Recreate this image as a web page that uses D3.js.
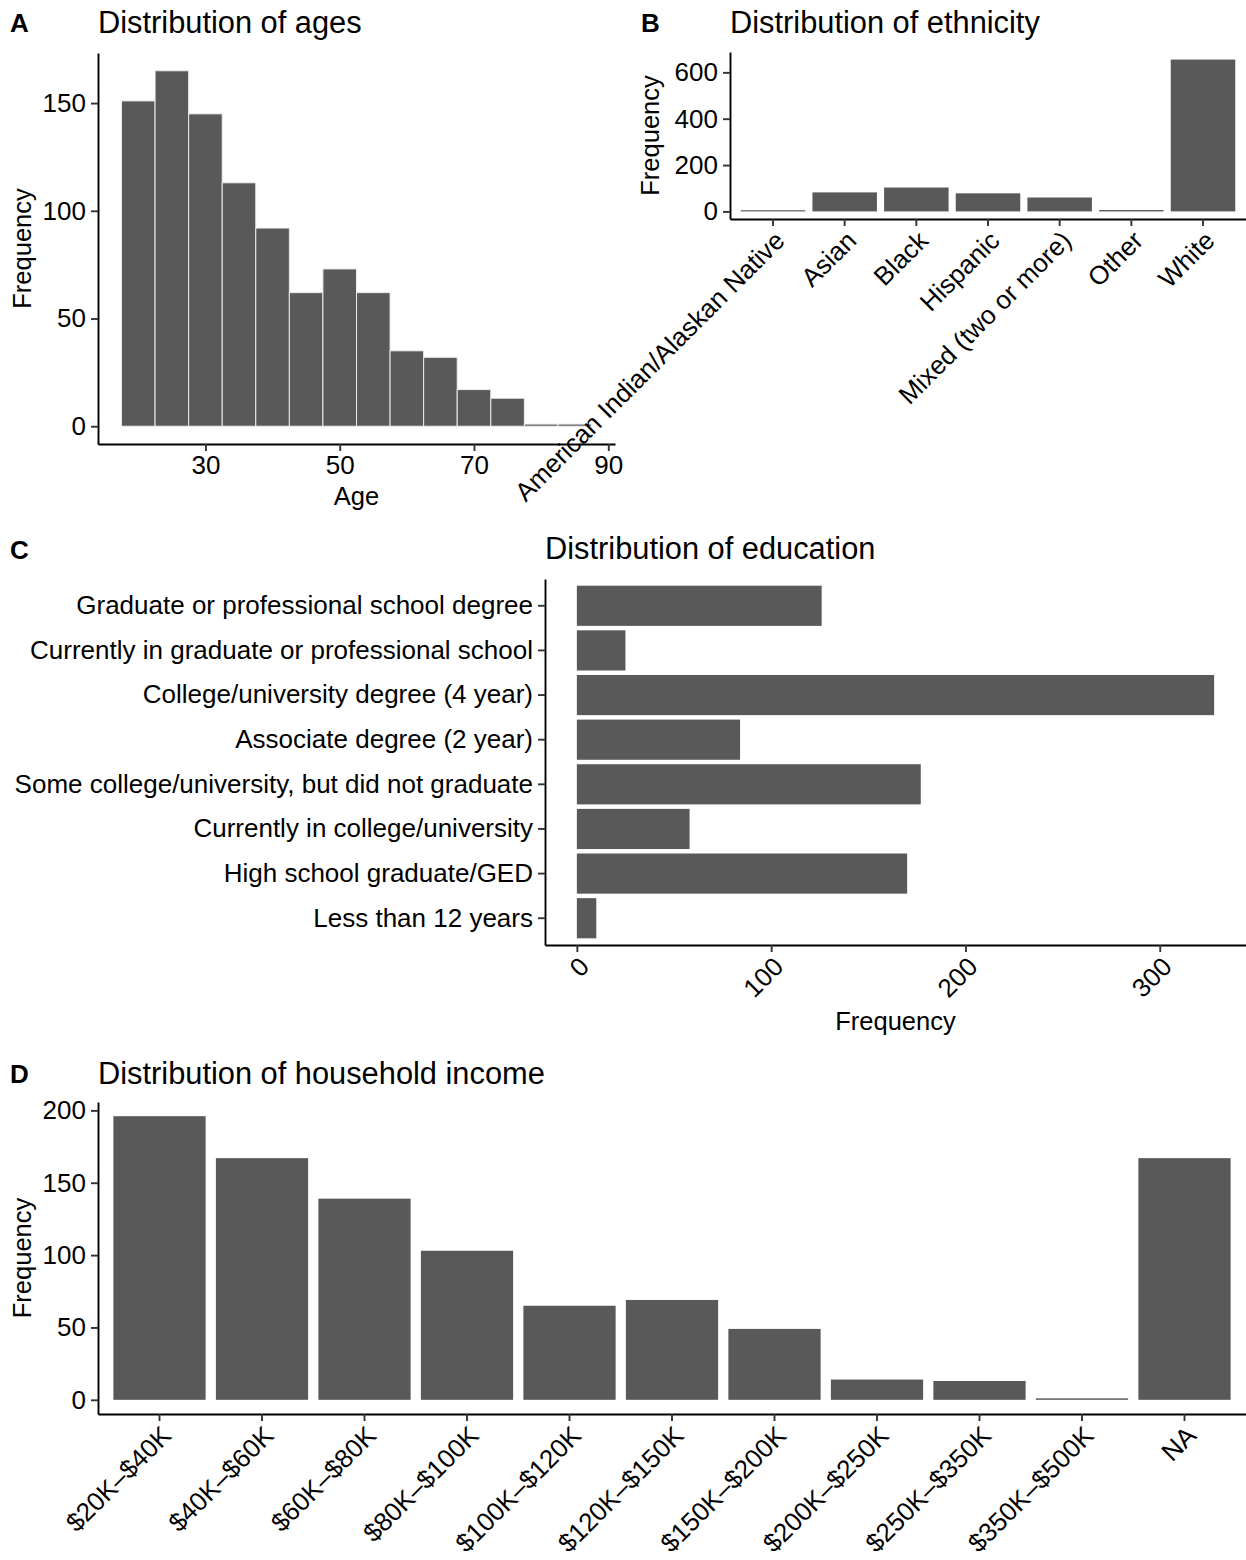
<!DOCTYPE html>
<html>
<head>
<meta charset="utf-8">
<script src="https://cdn.jsdelivr.net/npm/d3@7"></script>
<style>
  html, body { margin: 0; padding: 0; background: #fff; }
  svg { display: block; font-family: "Liberation Sans", Arial, Helvetica, sans-serif; }
</style>
</head>
<body>
<svg id="fig" width="1246" height="1560"></svg>
<script>
// ---- Panel A: age histogram (5-year bins) ----
const ageBinStarts = [17.5, 22.5, 27.5, 32.5, 37.5, 42.5, 47.5, 52.5, 57.5, 62.5, 67.5, 72.5, 77.5, 82.5];
const ageBinWidth = 5;
const ageCounts = [151, 165, 145, 113, 92, 62, 73, 62, 35, 32, 17, 13, 1, 1];
const ageTicks = [30, 50, 70, 90];
const ageFreqTicks = [0, 50, 100, 150];

// ---- Panel B: ethnicity ----
const ethnicities = ["American Indian/Alaskan Native", "Asian", "Black", "Hispanic",
                     "Mixed (two or more)", "Other", "White"];
const ethnicityCounts = [5, 82, 103, 78, 60, 6, 655];
const ethnicityFreqTicks = [0, 200, 400, 600];

// ---- Panel C: education (listed top to bottom) ----
const educationLevels = [
  "Graduate or professional school degree",
  "Currently in graduate or professional school",
  "College/university degree (4 year)",
  "Associate degree (2 year)",
  "Some college/university, but did not graduate",
  "Currently in college/university",
  "High school graduate/GED",
  "Less than 12 years"
];
const educationCounts = [126, 25, 328, 84, 177, 58, 170, 10];
const educationFreqTicks = [0, 100, 200, 300];

// ---- Panel D: household income ----
const incomeBands = ["$20K–$40K", "$40K–$60K", "$60K–$80K", "$80K–$100K", "$100K–$120K",
                     "$120K–$150K", "$150K–$200K", "$200K–$250K", "$250K–$350K", "$350K–$500K", "NA"];
const incomeCounts = [196, 167, 139, 103, 65, 69, 49, 14, 13, 1, 167];
const incomeFreqTicks = [0, 50, 100, 150, 200];

// ---- shared styling ----
const BAR = "#595959";
const FS = 26;            // tick labels
const AXT_FS = 25.5;      // axis titles
const TITLE_FS = 30.8;    // panel titles
const TAG_FS = 26;        // panel letters
const TICK = 7;

const svg = d3.select("#fig");
svg.append("rect").attr("width", 1246).attr("height", 1560).attr("fill", "#fff");

// expand a [lo, hi] domain by 5% on both sides
function expanded(lo, hi) {
  const pad = (hi - lo) * 0.05;
  return [lo - pad, hi + pad];
}

function styleAxis(g) {
  g.attr("font-size", null).attr("font-family", null);
  g.select(".domain").attr("stroke", "#000").attr("stroke-width", 1.9);
  g.selectAll(".tick line").attr("stroke", "#333").attr("stroke-width", 1.9);
  g.selectAll(".tick text").attr("fill", "#000").style("font-size", FS + "px");
}

function rotateLabels(g) {
  g.selectAll(".tick text")
    .attr("x", 0).attr("y", 0).attr("dy", "0.72em")
    .attr("text-anchor", "end")
    .attr("transform", "translate(0," + (TICK + 3) + ") rotate(-45)");
}

function title(x, y, txt) {
  svg.append("text").attr("x", x).attr("y", y)
    .style("font-size", TITLE_FS + "px").attr("fill", "#000").text(txt);
}
function tag(x, y, txt) {
  svg.append("text").attr("x", x).attr("y", y)
    .style("font-size", TAG_FS + "px").style("font-weight", "bold").attr("fill", "#000").text(txt);
}
function yTitle(x, cy, txt) {
  svg.append("text").attr("transform", "translate(" + x + "," + cy + ") rotate(-90)")
    .attr("text-anchor", "middle").style("font-size", AXT_FS + "px").attr("fill", "#000").text(txt);
}
function xTitle(cx, y, txt) {
  svg.append("text").attr("x", cx).attr("y", y)
    .attr("text-anchor", "middle").style("font-size", AXT_FS + "px").attr("fill", "#000").text(txt);
}

// ================= Panel A =================
{
  const L = 98, R = 615, T = 53, B = 444;
  const binMin = d3.min(ageBinStarts), binMax = d3.max(ageBinStarts) + ageBinWidth;
  const x = d3.scaleLinear().domain(expanded(binMin, binMax)).range([L, R]);
  const y = d3.scaleLinear().domain(expanded(0, d3.max(ageCounts))).range([B, T]);

  svg.append("g").selectAll("rect").data(ageCounts).join("rect")
    .attr("x", (d, i) => x(ageBinStarts[i]))
    .attr("width", (d, i) => x(ageBinStarts[i] + ageBinWidth) - x(ageBinStarts[i]))
    .attr("y", d => y(d))
    .attr("height", d => y(0) - y(d))
    .attr("fill", BAR).attr("stroke", "#ececec").attr("stroke-width", 1);

  svg.append("g").attr("transform", "translate(" + L + ",0)")
    .call(d3.axisLeft(y).tickValues(ageFreqTicks).tickSize(TICK).tickSizeOuter(0).tickPadding(5))
    .call(styleAxis);
  svg.append("g").attr("transform", "translate(0," + B + ")")
    .call(d3.axisBottom(x).tickValues(ageTicks).tickSize(TICK).tickSizeOuter(0).tickPadding(5))
    .call(styleAxis);

  tag(10, 32, "A");
  title(L, 33, "Distribution of ages");
  yTitle(31, (T + B) / 2, "Frequency");
  xTitle((L + R) / 2, 505, "Age");
}

// ================= Panel B =================
{
  const L = 730, R = 1246, T = 52, B = 219;
  const x = d3.scaleBand().domain(ethnicities).range([L, R]).paddingInner(0.1).paddingOuter(0.15);
  const y = d3.scaleLinear().domain(expanded(0, d3.max(ethnicityCounts))).range([B, T]);

  svg.append("g").selectAll("rect").data(ethnicityCounts).join("rect")
    .attr("x", (d, i) => x(ethnicities[i]))
    .attr("width", x.bandwidth())
    .attr("y", d => y(d))
    .attr("height", d => y(0) - y(d))
    .attr("fill", BAR);

  svg.append("g").attr("transform", "translate(" + L + ",0)")
    .call(d3.axisLeft(y).tickValues(ethnicityFreqTicks).tickSize(TICK).tickSizeOuter(0).tickPadding(5))
    .call(styleAxis);
  svg.append("g").attr("transform", "translate(0," + B + ")")
    .call(d3.axisBottom(x).tickSize(TICK).tickSizeOuter(0))
    .call(styleAxis).call(rotateLabels);

  tag(641, 32, "B");
  title(L, 33, "Distribution of ethnicity");
  yTitle(659, (T + B) / 2, "Frequency");
}

// ================= Panel C =================
{
  const L = 545, R = 1246, T = 579, B = 945;
  const x = d3.scaleLinear().domain(expanded(0, d3.max(educationCounts))).range([L, R]);
  const y = d3.scaleBand().domain(educationLevels).range([T, B]).paddingInner(0.1).paddingOuter(0.15);

  svg.append("g").selectAll("rect").data(educationCounts).join("rect")
    .attr("x", x(0))
    .attr("width", d => x(d) - x(0))
    .attr("y", (d, i) => y(educationLevels[i]))
    .attr("height", y.bandwidth())
    .attr("fill", BAR);

  svg.append("g").attr("transform", "translate(" + L + ",0)")
    .call(d3.axisLeft(y).tickSize(TICK).tickSizeOuter(0).tickPadding(5))
    .call(styleAxis);
  svg.append("g").attr("transform", "translate(0," + B + ")")
    .call(d3.axisBottom(x).tickValues(educationFreqTicks).tickSize(TICK).tickSizeOuter(0))
    .call(styleAxis).call(rotateLabels);

  tag(10, 559, "C");
  title(L, 559, "Distribution of education");
  xTitle((L + R) / 2, 1030, "Frequency");
}

// ================= Panel D =================
{
  const L = 98, R = 1246, T = 1102, B = 1414;
  const x = d3.scaleBand().domain(incomeBands).range([L, R]).paddingInner(0.1).paddingOuter(0.15);
  const y = d3.scaleLinear().domain(expanded(0, d3.max(incomeCounts))).range([B, T]);

  svg.append("g").selectAll("rect").data(incomeCounts).join("rect")
    .attr("x", (d, i) => x(incomeBands[i]))
    .attr("width", x.bandwidth())
    .attr("y", d => y(d))
    .attr("height", d => y(0) - y(d))
    .attr("fill", BAR);

  svg.append("g").attr("transform", "translate(" + L + ",0)")
    .call(d3.axisLeft(y).tickValues(incomeFreqTicks).tickSize(TICK).tickSizeOuter(0).tickPadding(5))
    .call(styleAxis);
  svg.append("g").attr("transform", "translate(0," + B + ")")
    .call(d3.axisBottom(x).tickSize(TICK).tickSizeOuter(0))
    .call(styleAxis).call(rotateLabels);

  tag(10, 1083, "D");
  title(L, 1084, "Distribution of household income");
  yTitle(31, (T + B) / 2, "Frequency");
}
</script>
</body>
</html>
